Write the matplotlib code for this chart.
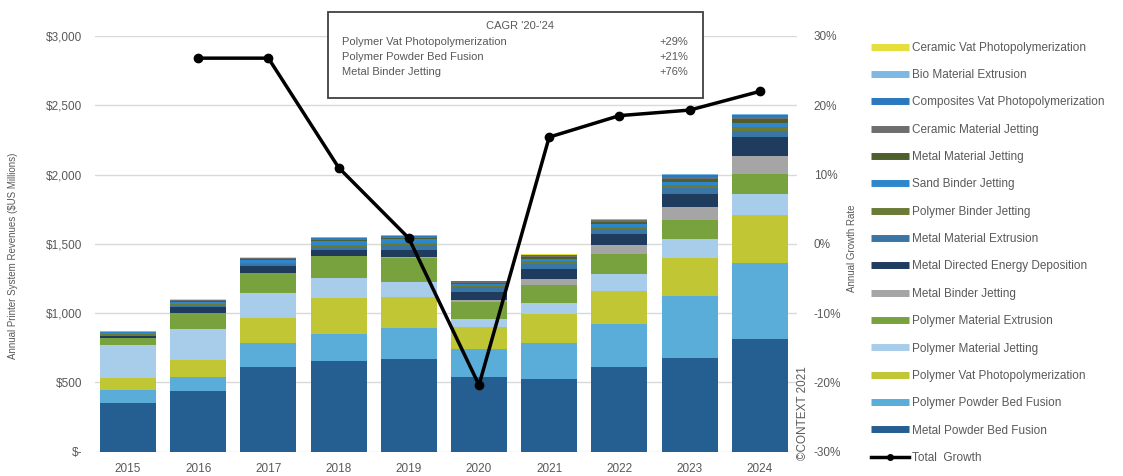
#!/usr/bin/env python3

# stacked revenue bars per printer technology, with total growth line
import numpy as np
import matplotlib as mpl
mpl.use('Agg')
import matplotlib.pyplot as plt
import matplotlib.patches as mpatches
from matplotlib.lines import Line2D
from matplotlib.ticker import FuncFormatter

plt.rcParams['font.family'] = ['Liberation Sans', 'DejaVu Sans']

years = ['2015', '2016', '2017', '2018', '2019', '2020', '2021', '2022', '2023', '2024']

# revenues, $US millions (bottom of stack first)
metal_pbf = [352, 437, 608, 656, 668, 536, 521, 608, 677, 810]
polymer_pbf = [92, 99, 178, 191, 222, 204, 264, 313, 445, 549]
polymer_vat = [84, 125, 176, 260, 228, 161, 207, 240, 277, 349]
polymer_mj = [240, 224, 180, 149, 108, 53, 77, 121, 133, 152]
polymer_me = [48, 113, 149, 152, 169, 127, 132, 142, 139, 144]
metal_bj = [0, 0, 0, 5, 8, 14, 41, 67, 96, 130]
metal_ded = [20, 45, 50, 40, 55, 60, 79, 77, 92, 135]
metal_me = [0, 10, 10, 20, 30, 35, 35, 35, 40, 45]
polymer_bj = [10, 10, 10, 20, 20, 10, 20, 20, 25, 30]
sand_bj = [15, 20, 25, 25, 25, 12, 15, 20, 25, 30]
metal_mj = [3, 5, 5, 10, 10, 8, 12, 15, 20, 25]
ceramic_mj = [2, 3, 3, 8, 8, 5, 10, 10, 15, 18]
composites_vat = [0, 3, 3, 8, 6, 4, 6, 6, 12, 12]
bio_me = [2, 2, 2, 4, 3, 2, 3, 3, 5, 5]
ceramic_vat = [1, 3, 3, 3, 3, 1, 2, 2, 3, 3]

# annual growth of the total, percent
total_growth = [np.nan, 26.8, 26.8, 11.0, 0.8, -20.4, 15.4, 18.5, 19.3, 22.0]

cagr_names = ['Polymer Vat Photopolymerization', 'Polymer Powder Bed Fusion', 'Metal Binder Jetting']
cagr_values = ['+29%', '+21%', '+76%']

series = [
    ('Metal Powder Bed Fusion', metal_pbf, '#255e91'),
    ('Polymer Powder Bed Fusion', polymer_pbf, '#5aacd9'),
    ('Polymer Vat Photopolymerization', polymer_vat, '#c0c634'),
    ('Polymer Material Jetting', polymer_mj, '#a8cdea'),
    ('Polymer Material Extrusion', polymer_me, '#78a23e'),
    ('Metal Binder Jetting', metal_bj, '#a5a5a5'),
    ('Metal Directed Energy Deposition', metal_ded, '#1f3b5e'),
    ('Metal Material Extrusion', metal_me, '#3a76a5'),
    ('Polymer Binder Jetting', polymer_bj, '#6a7b35'),
    ('Sand Binder Jetting', sand_bj, '#2f87cb'),
    ('Metal Material Jetting', metal_mj, '#4c5f2c'),
    ('Ceramic Material Jetting', ceramic_mj, '#6e6e6e'),
    ('Composites Vat Photopolymerization', composites_vat, '#2a78bd'),
    ('Bio Material Extrusion', bio_me, '#7db8e2'),
    ('Ceramic Vat Photopolymerization', ceramic_vat, '#e6de3c'),
]

text_col = '#595959'
fs = 8.5

fig = plt.figure(figsize=(11.23, 4.76), dpi=100)
ax = fig.add_axes([95 / 1123, 24.5 / 476, 702 / 1123, 415.5 / 476])

x = np.arange(len(years))
bottom = np.zeros(len(years))
handles = []
for name, vals, col in series:
    ax.bar(x, vals, width=0.8, bottom=bottom, color=col, linewidth=0, zorder=2)
    bottom += np.array(vals)
    handles.append(Line2D([0], [0], color=col, lw=5, solid_capstyle='butt'))

ax.set_xlim(-0.47, 9.53)
ax.set_ylim(0, 3000)
ax.set_yticks(np.arange(0, 3001, 500))
ax.yaxis.set_major_formatter(FuncFormatter(lambda v, p: '$-' if v == 0 else '${:,.0f}'.format(v)))
ax.set_xticks(x)
ax.set_xticklabels(years)
ax.tick_params(axis='both', length=0, labelsize=fs, colors=text_col)
ax.tick_params(axis='y', pad=9)
ax.tick_params(axis='x', pad=8)
ax.grid(axis='y', color='#d9d9d9', lw=1)
ax.set_axisbelow(True)
for s in ax.spines.values():
    s.set_visible(False)
ax.set_ylabel('Annual Printer System Revenues ($US Millions)', fontsize=7,
              color=text_col)
ax.yaxis.set_label_coords(-0.11, 0.47)

# growth rate on the right axis
ax2 = ax.twinx()
ax2.plot(x, total_growth, color='black', lw=2.5, marker='o', ms=6, zorder=5)
ax2.set_ylim(-30, 30)
ax2.set_yticks(np.arange(-30, 31, 10))
ax2.yaxis.set_major_formatter(FuncFormatter(lambda v, p: '{:.0f}%'.format(v)))
ax2.tick_params(axis='y', length=0, labelsize=fs, colors=text_col, pad=12)
for s in ax2.spines.values():
    s.set_visible(False)
ax2.set_ylabel('Annual Growth Rate', fontsize=7, color=text_col)
ax2.yaxis.set_label_coords(1.071, 0.49)

fig.text(803 / 1123, 16 / 476, '©CONTEXT 2021', rotation=90, ha='center', va='bottom',
         fontsize=fs, color=text_col)

# legend, top entry first
handles = handles[::-1]
labels = [s[0] for s in series][::-1]
handles.append(Line2D([0], [0], color='black', lw=2.5, marker='o', ms=4))
labels.append('Total  Growth')
fig.legend(handles, labels, loc='upper left', bbox_to_anchor=(866 / 1123, 1 - 37 / 476),
           frameon=False, fontsize=fs, labelcolor=text_col, handlelength=3.2,
           handletextpad=0.3, labelspacing=1.3, borderaxespad=0)

# CAGR box
box = mpatches.Rectangle((328 / 1123, 1 - 98 / 476), 375 / 1123, 86 / 476,
                         transform=fig.transFigure, facecolor='white',
                         edgecolor='#404040', lw=1.3, zorder=3)
fig.patches.append(box)
fig.text(520 / 1123, 1 - 26 / 476, "CAGR '20-'24", ha='center', va='center',
         fontsize=8, color=text_col, zorder=4)
for i in range(len(cagr_names)):
    yy = 1 - (42 + 15 * i) / 476
    fig.text(342 / 1123, yy, cagr_names[i], ha='left', va='center', fontsize=8,
             color=text_col, zorder=4)
    fig.text(688 / 1123, yy, cagr_values[i], ha='right', va='center', fontsize=8,
             color=text_col, zorder=4)

plt.savefig('out.png', dpi=100)
plt.close('all')
